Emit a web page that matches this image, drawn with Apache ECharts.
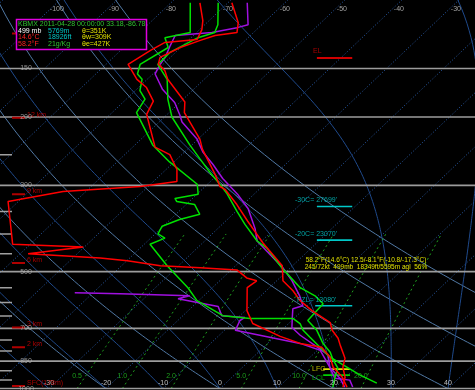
<!DOCTYPE html>
<html><head><meta charset="utf-8">
<script src="https://cdn.jsdelivr.net/npm/echarts@6/dist/echarts.min.js"></script>
<style>html,body{margin:0;padding:0;background:#000;}#c{width:475px;height:390px;}</style>
</head><body><div id="c"></div>
<script>
// ---------- sounding data (pressure hPa, temperature degC) ----------
const redA_p = [991,934,881,835,774,742,708,676,630,594,560,528,483,422,371,336,307,302,281,242,228,195,183,160,152,146,140.5,132.5,127,123.4,121.3,114.4,101.7];
const redA_t = [21.3,19.8,17.6,16.3,13.1,11.4,8.9,7.1,1.7,-2.2,-5.3,-8.9,-11.8,-19.4,-26.1,-31.1,-36.0,-37.4,-40.5,-47.4,-49.7,-57.3,-59.2,-66.4,-68.5,-70.9,-71.8,-70.1,-67.9,-66.2,-62.9,-64.5,-69.3];
const redB_p = [991,934,881,830,783,765,734,680,630,550,528,519,495,489,483,469,461,450,432,425,330,311,302,293,273,250,239,197,182,168,160,146.5,135,128.6,126.4,119.2,113,101.7];
const redB_t = [22.0,19.3,15.9,13.5,10.2,5.7,0.9,-6.3,-9.7,-13.9,-13.5,-15.8,-19.0,-25.8,-33.2,-39.9,-45.2,-58.6,-50.2,-63.1,-71.8,-64.0,-51.4,-45.9,-48.1,-52.1,-56.1,-63.6,-64.9,-68.6,-71.8,-76.1,-74.8,-73.7,-68.6,-69.6,-71.1,-74.9];
const greenA_p = [968,923,830,783,738,708,680,660,660,649,594,550,483,425,410,400,382,367,356,336,330,324,316,298,261,236,195,180,171,160,155,146.5,132.5,125,121.3,101.7];
const greenA_t = [26.5,22.1,13.5,9.9,6.3,3.8,2.0,-0.2,-7.7,-13.0,-20.3,-24.3,-32.0,-39.0,-37.5,-39.5,-40.2,-38.4,-35.8,-38.5,-42.2,-43.1,-39.8,-41.8,-50.8,-56.9,-65.7,-66.7,-69.2,-70.9,-72.7,-74.0,-72.2,-74.6,-71.1,-76.6];
const greenB_p = [991,940,886,845,806,765,708,668,605,577,550,489,435,417,378,350,316,302,277,256,236,200,180,160,146.5,136.4,125,121.3,115.8,101.7];
const greenB_t = [19.5,18.2,16.9,14.6,12.6,9.7,6.2,2.8,2.4,-0.5,-4.6,-11.5,-17.8,-20.8,-26.0,-29.8,-34.7,-37.1,-41.9,-46.1,-50.4,-58.7,-62.7,-66.5,-70.9,-71.0,-68.8,-66.8,-67.7,-71.7];
const purpleA_p = [991,951,940,881,820,783,729,696,660,623,612,577,528,489,443,417,387,344,316,288,265,246,228,206,198,183.5,170,155,146.5,140.5,131,123.4,121.3,117.8,115.8,101.7];
const purpleA_t = [23.0,21.2,18.2,15.3,12.8,9.5,4.2,1.3,-0.3,-2.0,-0.8,-3.2,-7.3,-11.3,-17.2,-20.8,-23.5,-28.4,-32.9,-38.4,-42.7,-46.8,-50.2,-56.0,-57.6,-60.9,-65.4,-69.6,-70.5,-70.9,-72.2,-73.2,-67.3,-63.8,-62.4,-66.6];
const purpleB_p = [991,940,881,797,765,708,668,656,649,615,587,577,570,567];
const purpleB_t = [21.6,19.1,15.3,10.5,5.7,-8.1,-9.1,-8.8,-13.2,-15.5,-24.0,-22.5,-35.1,-43.2];

// ---------- diagram furniture ----------
const isobarLines = [150,200,300,500,700,850,1000];
const isobarTicks = [250,350,400,450,550,600,650,750,800,900,950];
const topTempLabels = [-100,-90,-80,-70,-60,-50,-40,-30];
const bottomTempLabels = [-30,-20,-10,0,10,20,30,40];
const mixRatios = [0.5,1.0,2.0,5.0,10.0,20.0];
const dryThetas = [-40,-20,0,20,40,60,80];
const moistThetaW = [-30,-20,-10,0,10,20,30,40];
const kmNames = ['15 km','12 km','9 km','6 km','3 km','2 km','SFC(178m)'];
const kmP = [122,201,316,475,696,783,985];
const levelNames = ['EL','-30C= 27699\'','-20C= 23070\'','FZL= 13080\'','LFC','LCL'];
const levelP = [141,340,415,612,891,923];

const FONT = '"Liberation Sans", Arial, sans-serif';
const K = 178/5.7;
const XMIN = -220/5.7, XMAX = 255/5.7;
const sx = (t,p) => t + K*Math.log(1000/p);
const series = [];

function lineS(data, color, width, type, z){
  series.push({type:'line', data, showSymbol:false, silent:true, animation:false, z:z||1,
    lineStyle:{color, width, type:type||'solid'}, clip:true});
}
function textS(items, color, offset, align, z, fs){
  series.push({type:'scatter', symbolSize:1, silent:true, animation:false, z:z||10,
    itemStyle:{color:'rgba(0,0,0,0)'},
    label:{show:true, formatter:'{b}', color, fontSize:fs||7, fontFamily:FONT, position:'inside',
      offset:offset||[0,0], align:align||'center', verticalAlign:'middle'},
    data: items.map(it=>({name:String(it[0]), value:[it[1],it[2]]}))});
}
// isotherms
for(let t=-160;t<=50;t+=10){ lineS([[sx(t,1000),1000],[sx(t,100),100]], '#2a5ca8', 1, [1,2], 1); }
// dry adiabats
for(const th of dryThetas){ const d=[]; for(let p=1000;p>=100;p-=10){ d.push([sx((th+273.15)*Math.pow(p/1000,0.2857)-273.15,p),p]); } lineS(d,'#5078a4',1,'solid',1); }
// moist adiabats
function es(tc){return 6.112*Math.exp(17.67*tc/(tc+243.5));}
function lapse(p,tK){const Rd=287.04,cp=1005.7,Lv=2.501e6,eps=0.622;const e=es(tK-273.15);const rs=eps*e/(p-e);
  return (Rd*tK+Lv*rs)/(p*(cp+Lv*Lv*rs*eps/(Rd*tK*tK)));}
for(const tw of moistThetaW){ let p=1000,t=tw+273.15; const d=[[sx(tw,1000),1000]];
  while(p>100){const dp=-5;const k1=lapse(p,t);const k2=lapse(p+dp/2,t+k1*dp/2);t+=k2*dp;p+=dp;d.push([sx(t-273.15,p),p]);}
  lineS(d,'#1f4a8c',1,'solid',1); }
// mixing ratio lines
function tdOf(w,p){const e=p*w/1000/(0.622+w/1000);const l=Math.log(e/6.112);return 243.5*l/(17.67-l);}
for(const w of mixRatios){ const d=[]; for(let p=1000;p>=400;p-=20){ d.push([sx(tdOf(w,p),p),p]); } lineS(d,'#1fa01f',1,[2,3],2); }
// isobars
for(const p of isobarLines){ lineS([[XMIN,p],[XMAX,p]],'#9c9c9c',1.6,'solid',3); }
for(const p of isobarTicks){ lineS([[XMIN,p],[XMIN+12/5.7,p]],'#a0a0a0',1.5,'solid',3); }
// km markers
kmP.forEach(p=>lineS([[XMIN+12/5.7,p],[XMIN+25/5.7,p]],'#b00000',2,'solid',4));
// level marker lines
const lvlColors=['#d00000','#00c8c8','#00c8c8','#00c8c8','#e0e000','#00d000'];
const lvlX=[[17,23.2],[17,23.2],[17,23.2],[16.7,23.2],[18.1,22.8],[18.1,22.8]];
levelP.forEach((p,i)=>lineS([[lvlX[i][0],p],[lvlX[i][1],p]],lvlColors[i],i===0?2:1.6,'solid',6));

// profiles
const prof=(P,T)=>P.map((p,i)=>[sx(T[i],p),p]);
lineS(prof(purpleB_p,purpleB_t),'#a010e0',1.5,'solid',7);
lineS(prof(purpleA_p,purpleA_t),'#a010e0',1.5,'solid',7);
lineS(prof(greenA_p,greenA_t),'#00e000',1.5,'solid',8);
lineS(prof(greenB_p,greenB_t),'#00e000',1.5,'solid',8);
lineS(prof(redB_p,redB_t),'#ff0000',1.5,'solid',9);
lineS(prof(redA_p,redA_t),'#ff0000',1.5,'solid',9);

// labels
textS(isobarLines.map(p=>[p,XMIN+26/5.7,p]),'#b4b4b4',[0,0],'center',12);
textS(topTempLabels.map(t=>[t,sx(t,101.7),101.7]),'#c8c8c8',[0,6]);
textS(bottomTempLabels.map(t=>[t,t,1000]),'#e8e8e8',[0,-6]);
textS(mixRatios.map(w=>[w.toFixed(1),sx(tdOf(w,1000),1000),1000]),'#22c022',[0,-12.5]);
textS(kmNames.map((n,i)=>[n,XMIN+27/5.7,kmP[i]]),'#d00000',[0,-3],'left',11);
textS([[levelNames[0],(313-220)/5.7,levelP[0]]],'#d00000',[0,-7],'left');
textS([[levelNames[1],(295-220)/5.7,levelP[1]],[levelNames[2],(295-220)/5.7,levelP[2]],[levelNames[3],(297-220)/5.7,levelP[3]]],'#00c8c8',[0,-6],'left');
textS([[levelNames[4],(312-220)/5.7,levelP[4]]],'#e0e000',[0,0],'left');
textS([[levelNames[5],(312-220)/5.7,levelP[5]]],'#00d000',[0,3],'left');

const chart = echarts.init(document.getElementById('c'));
const tx=(x,y,text,fill,align,fs)=>({type:'text',x,y,z:100,style:{text,fill,font:(fs||7)+'px '+FONT,verticalAlign:'middle',align:align||'left'}});
chart.setOption({
  backgroundColor:'#000', animation:false,
  grid:{left:0,right:0,top:-2.8,bottom:1.4},
  xAxis:{type:'value',min:XMIN,max:XMAX,show:false},
  yAxis:{type:'log',logBase:10,inverse:true,min:100,max:1000,show:false},
  series,
  graphic:[
    {type:'rect',z:99,shape:{x:16.5,y:19.5,width:130,height:30},style:{fill:'#000',stroke:'#e000e0',lineWidth:1.5}},
    tx(18,24.5,'KBMX 2011-04-28 00:00:00 33.18,-86.78','#30c030'),
    tx(18,31,'499 mb','#ffffff'), tx(48,31,'5769m','#00c8c8'), tx(82,31,'θ=351K','#e0e000'),
    tx(18,37.5,'14.6°C','#ff2020'), tx(48,37.5,'18926ft','#00c8c8'), tx(82,37.5,'θw=309K','#e0e000'),
    tx(18,44,'58.2°F','#ff2020'), tx(48,44,'21g/Kg','#30c030'), tx(82,44,'θe=427K','#e0e000'),
    tx(366,260,'58.2°F(14.6°C) 12.5/-8.1°F(-10.8/-17.3°C)','#e0e000','center',6.5),
    tx(366,267,'245/72kt  499mb  18349ft/5595m agl  56%','#e0e000','center',6.5)
  ]
});
</script></body></html>
